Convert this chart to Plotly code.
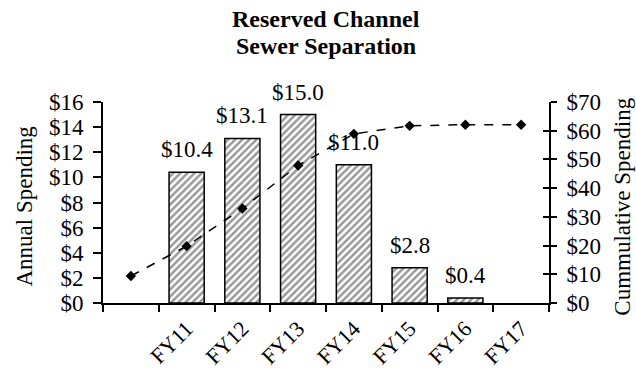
import plotly.graph_objects as go

# Fiscal-year categories (first slot holds prior spending, unlabeled)
categories = [" ", "FY11", "FY12", "FY13", "FY14", "FY15", "FY16", "FY17"]
annual_spending = [None, 10.4, 13.1, 15.0, 11.0, 2.8, 0.4, None]
cumulative_spending = [9.4, 19.8, 32.9, 47.9, 58.9, 61.7, 62.1, 62.1]
title_lines = ["Reserved Channel", "Sewer Separation"]

FONT = "Liberation Serif, Times New Roman, serif"
FS = 23

fig = go.Figure()

fig.add_trace(go.Bar(
    x=categories,
    y=annual_spending,
    marker=dict(
        color="white",
        line=dict(color="black", width=1.5),
        pattern=dict(shape="/", fgcolor="#333333", bgcolor="white", size=5, solidity=0.5),
    ),
    showlegend=False,
    hoverinfo="skip",
))

fig.add_trace(go.Scatter(
    x=categories,
    y=cumulative_spending,
    yaxis="y2",
    mode="lines+markers",
    line=dict(color="black", width=1.5, dash="dash"),
    marker=dict(symbol="diamond", size=8, color="black"),
    showlegend=False,
))

# helper trace so the inner tick axis on the right is drawn
fig.add_trace(go.Scatter(x=[categories[0]], y=[None], yaxis="y3",
                         showlegend=False, hoverinfo="skip"))

# value labels above the bars
for cat, val in zip(categories, annual_spending):
    if val is None:
        continue
    fig.add_annotation(
        x=cat, y=val, xref="x", yref="y",
        text=f"${val:.1f}", showarrow=False,
        yanchor="bottom", yshift=8,
        font=dict(family=FONT, size=FS, color="black"),
    )

# chart title, one annotation per line for tight line spacing
for line, ypos in zip(title_lines, [1.413, 1.279]):
    fig.add_annotation(
        x=0.5, y=ypos, xref="paper", yref="paper",
        text=f"<b>{line}</b>", showarrow=False,
        xanchor="center", yanchor="middle",
        font=dict(family=FONT, size=24, color="black"),
    )

# axis titles
fig.add_annotation(
    x=-0.177, y=0.48, xref="paper", yref="paper",
    text="Annual Spending", textangle=-90, showarrow=False,
    xanchor="center", yanchor="middle",
    font=dict(family=FONT, size=FS, color="black"),
)
fig.add_annotation(
    x=1.164, y=0.48, xref="paper", yref="paper",
    text="Cummulative Spending", textangle=-90, showarrow=False,
    xanchor="center", yanchor="middle",
    font=dict(family=FONT, size=FS, color="black"),
)

fig.update_layout(
    width=636, height=374,
    margin=dict(l=103, r=87, t=102, b=71, autoexpand=False),
    paper_bgcolor="white", plot_bgcolor="white",
    font=dict(family=FONT, size=FS, color="black"),
    bargap=0.37,
    xaxis=dict(
        type="category",
        tickson="boundaries",
        automargin=False,
        ticks="outside", ticklen=7, tickwidth=1.5, tickcolor="black",
        showline=True, linecolor="black", linewidth=2,
        showgrid=False, zeroline=False,
        tickangle=-45, ticklabelstandoff=2,
        tickfont=dict(family=FONT, size=22, color="black"),
    ),
    yaxis=dict(
        range=[0, 16], dtick=2, tickprefix="$",
        automargin=False,
        ticks="outside", ticklen=8, tickwidth=1.5, tickcolor="black",
        showline=True, linecolor="black", linewidth=2,
        showgrid=False, zeroline=False,
        ticklabelstandoff=5,
        tickfont=dict(family=FONT, size=FS, color="black"),
    ),
    yaxis2=dict(
        overlaying="y", side="right", anchor="x",
        automargin=False,
        range=[0, 70], dtick=10, tickprefix="$",
        ticks="outside", ticklen=6, tickwidth=1.5, tickcolor="black",
        showline=True, linecolor="black", linewidth=2,
        showgrid=False, zeroline=False,
        ticklabelstandoff=5,
        tickfont=dict(family=FONT, size=FS, color="black"),
    ),
    yaxis3=dict(
        overlaying="y", side="right", anchor="x",
        automargin=False,
        range=[0, 70], dtick=10,
        ticks="inside", ticklen=6, tickwidth=1.5, tickcolor="black",
        showticklabels=False, showline=False,
        showgrid=False, zeroline=False,
    ),
)

fig.write_html("out.html")
